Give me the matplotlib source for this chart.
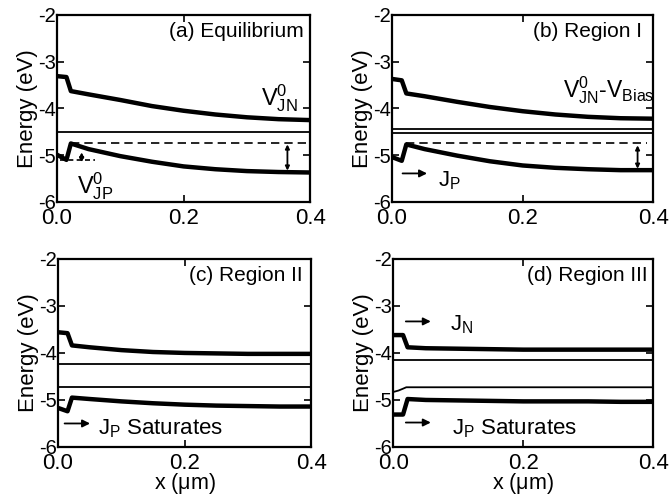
import matplotlib.pyplot as plt

plt.rcParams['font.family'] = ['Liberation Sans', 'DejaVu Sans']
plt.rcParams['mathtext.fontset'] = 'custom'
plt.rcParams['mathtext.rm'] = 'Liberation Sans'
plt.rcParams['mathtext.it'] = 'Liberation Sans'
plt.rcParams['axes.unicode_minus'] = False

# band positions along the device (um)
x = [0, 0.015, 0.022, 0.05, 0.1, 0.15, 0.2, 0.25, 0.3, 0.35, 0.4]

# (a) equilibrium
cb_a = [-3.31, -3.33, -3.63, -3.70, -3.82, -3.95, -4.05, -4.13, -4.19, -4.23, -4.25]
vb_a = [-4.99, -5.10, -4.75, -4.87, -5.02, -5.14, -5.24, -5.30, -5.34, -5.36, -5.37]
ef_a = [-4.50]

# (b) region I
cb_b = [-3.37, -3.40, -3.68, -3.74, -3.86, -3.97, -4.06, -4.13, -4.18, -4.21, -4.22]
vb_b = [-5.04, -5.12, -4.77, -4.87, -5.01, -5.13, -5.22, -5.27, -5.30, -5.32, -5.32]
ef_b = [-4.43, -4.52]

# (c) region II
cb_c = [-3.56, -3.58, -3.84, -3.88, -3.94, -3.98, -4.00, -4.01, -4.02, -4.02, -4.02]
vb_c = [-5.17, -5.24, -4.95, -4.98, -5.03, -5.07, -5.10, -5.12, -5.13, -5.14, -5.14]
ef_c = [-4.23, -4.72]

# (d) region III
cb_d = [-3.62, -3.62, -3.88, -3.90, -3.91, -3.92, -3.93, -3.93, -3.93, -3.93, -3.93]
vb_d = [-5.31, -5.31, -4.98, -5.00, -5.01, -5.02, -5.03, -5.03, -5.03, -5.04, -5.04]
ef_d = [-4.16]
fp_x = [0, 0.008, 0.015, 0.02, 0.4]
fp_d = [-4.83, -4.80, -4.76, -4.73, -4.73]

titles = ['(a) Equilibrium', '(b) Region I', '(c) Region II', '(d) Region III']
title_x = [0.975, 0.958, 0.964, 0.977]

fig = plt.figure(figsize=(6.7, 4.95), dpi=100)
ax_a = fig.add_axes([0.085, 0.592, 0.378, 0.378])
ax_b = fig.add_axes([0.585, 0.592, 0.390, 0.378])
ax_c = fig.add_axes([0.0866, 0.097, 0.378, 0.380])
ax_d = fig.add_axes([0.587, 0.097, 0.388, 0.380])
axes = [ax_a, ax_b, ax_c, ax_d]

bands = [(cb_a, vb_a, ef_a), (cb_b, vb_b, ef_b), (cb_c, vb_c, ef_c), (cb_d, vb_d, ef_d)]

for i, ax in enumerate(axes):
    cb, vb, ef = bands[i]
    ax.plot(x, cb, color='k', lw=3.2)
    ax.plot(x, vb, color='k', lw=3.2)
    for e in ef:
        ax.axhline(e, color='k', lw=1.3)
    ax.set_xlim(0, 0.4)
    ax.set_ylim(-6, -2)
    ax.set_xticks([0.0, 0.2, 0.4])
    ax.set_xticklabels(['0.0', '0.2', '0.4'])
    ax.set_yticks([-2, -3, -4, -5, -6])
    ax.tick_params(direction='in', top=True, right=True, length=5, width=1.2, pad=1)
    ax.tick_params(axis='x', labelsize=16, pad=4)
    ax.tick_params(axis='y', labelsize=14.5)
    for s in ax.spines.values():
        s.set_linewidth(1.6)
    ax.set_ylabel('Energy (eV)', fontsize=16, labelpad=0)
    ax.text(title_x[i], 0.91, titles[i], transform=ax.transAxes, ha='right',
            va='center', fontsize=15)

ax_c.set_xlabel(r'x ($\mathrm{\mu}$m)', fontsize=15.5, labelpad=-2)
ax_d.set_xlabel(r'x ($\mathrm{\mu}$m)', fontsize=15.5, labelpad=-2)

ax_d.plot(fp_x, fp_d, color='k', lw=1.3)

arrow = dict(arrowstyle='-|>', color='k', lw=1.3, mutation_scale=11)
darrow = dict(arrowstyle='<|-|>', color='k', lw=1.3, mutation_scale=6,
              shrinkA=0, shrinkB=0)

# (a) annotations
ax_a.plot([0.022, 0.4], [-4.75, -4.75], color='k', lw=1.2, ls=(0, (5, 3)))
ax_a.plot([0.005, 0.06], [-5.11, -5.11], color='k', lw=1.2, ls=(0, (3, 2)))
ax_a.annotate('', xy=(0.364, -5.33), xytext=(0.364, -4.77), arrowprops=darrow)
ax_a.annotate('', xy=(0.039, -5.15), xytext=(0.039, -4.94), arrowprops=darrow)
ax_a.text(0.322, -3.79, r'$\mathrm{V^0_{JN}}$', fontsize=17, ha='left', va='center')
ax_a.text(0.031, -5.66, r'$\mathrm{V^0_{JP}}$', fontsize=17, ha='left', va='center')

# (b) annotations
ax_b.plot([0.022, 0.39], [-4.75, -4.75], color='k', lw=1.2, ls=(0, (5, 3)))
ax_b.annotate('', xy=(0.376, -5.29), xytext=(0.376, -4.79), arrowprops=darrow)
ax_b.text(0.262, -3.62, r'$\mathrm{V^0_{JN}}$-$\mathrm{V_{Bias}}$', fontsize=16.5,
          ha='left', va='center')
ax_b.annotate('', xy=(0.058, -5.39), xytext=(0.012, -5.39), arrowprops=arrow)
ax_b.text(0.07, -5.54, r'$\mathrm{J_P}$', fontsize=16, ha='left', va='center')

# (c) annotations
ax_c.annotate('', xy=(0.055, -5.50), xytext=(0.006, -5.50), arrowprops=arrow)
ax_c.text(0.063, -5.62, r'$\mathrm{J_P}$ Saturates', fontsize=16, ha='left', va='center')

# (d) annotations
ax_d.annotate('', xy=(0.062, -3.33), xytext=(0.015, -3.33), arrowprops=arrow)
ax_d.text(0.088, -3.40, r'$\mathrm{J_N}$', fontsize=16, ha='left', va='center')
ax_d.annotate('', xy=(0.062, -5.48), xytext=(0.015, -5.48), arrowprops=arrow)
ax_d.text(0.091, -5.62, r'$\mathrm{J_P}$ Saturates', fontsize=16, ha='left', va='center')

fig.savefig('out.png', dpi=100)
